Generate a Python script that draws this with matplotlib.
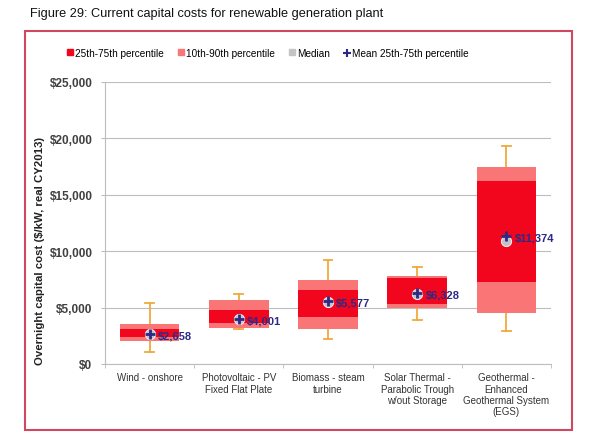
import matplotlib
matplotlib.use("Agg")
import matplotlib.pyplot as plt
from matplotlib.patches import Patch, Rectangle
from matplotlib.lines import Line2D
import numpy as np

plt.rcParams['font.family'] = ['Liberation Sans', 'DejaVu Sans']

categories = ["Wind - onshore", "Photovoltaic - PV\nFixed Flat Plate", "Biomass - steam\nturbine",
              "Solar Thermal -\nParabolic Trough\nw/out Storage", "Geothermal -\nEnhanced\nGeothermal System\n(EGS)"]
p10 = [2040, 3165, 3100, 4965, 4520]
p25 = [2370, 3610, 4200, 5320, 7240]
p75 = [3100, 4810, 6590, 7620, 16250]
p90 = [3550, 5670, 7480, 7830, 17440]
wlow = [1040, 3080, 2220, 3900, 2950]
whigh = [5380, 6200, 9220, 8570, 19300]
median = [2620, 3980, 5540, 6250, 10880]
mean = [2658, 4001, 5577, 6328, 11374]
yticks = [0, 5000, 10000, 15000, 20000, 25000]

c_dark = '#F2061E'
c_light = '#FA7676'
c_med = '#C4C4C4'
c_mean = '#2B2A86'
c_whisk = '#F0A93A'
c_grid = '#BDBDBD'

fig = plt.figure(figsize=(5.90, 4.39), dpi=100)
ax = fig.add_axes([105/590, 1-365/439, 446/590, 282/439])

x = np.arange(len(categories))
bw = 0.67
for i in x:
    ax.plot([i, i], [wlow[i], whigh[i]], color=c_whisk, lw=1.3, zorder=2)
    for v in (wlow[i], whigh[i]):
        ax.plot([i-0.05, i+0.05], [v, v], color=c_whisk, lw=1.3, zorder=2)
ax.bar(x, np.array(p90)-np.array(p10), bottom=p10, width=bw, color=c_light, zorder=3)
ax.bar(x, np.array(p75)-np.array(p25), bottom=p25, width=bw, color=c_dark, zorder=4)
ax.scatter(x, median, s=55, color=c_med, edgecolors='white', linewidths=0.6, zorder=5)
ax.scatter(x, mean, marker='+', s=60, color=c_mean, linewidths=2.0, zorder=6)
for i in x:
    ax.annotate(f"${mean[i]:,}", (i, mean[i]), xytext=(6, -1), textcoords='offset points',
                ha='left', va='center', fontsize=8, fontweight='bold', color=c_mean, zorder=7)

ax.set_ylim(0, 25000)
ax.set_xlim(-0.5, len(categories)-0.5)
ax.set_yticks(yticks)
ax.set_yticklabels([f"${v:,}" for v in yticks], fontsize=8.5, fontweight='bold', color='#404040')
ax.yaxis.grid(True, color=c_grid, lw=0.8)
ax.set_axisbelow(True)
ax.set_xticks(x)
ax.set_xticklabels(categories, fontsize=7, color='#333333', linespacing=1.15)
ax.tick_params(axis='x', length=0, pad=6)
ax.set_xticks(np.arange(-0.5, len(categories), 1), minor=True)
ax.tick_params(axis='x', which='minor', length=3, color=c_grid, direction='out')
ax.tick_params(axis='y', length=3, color=c_grid, pad=6)
for s in ('top', 'right'):
    ax.spines[s].set_visible(False)
for s in ('left', 'bottom'):
    ax.spines[s].set_color(c_grid)
ax.set_ylabel("Overnight capital cost ($/kW, real CY2013)", fontsize=8.2, fontweight='bold', color='#222222')
ax.yaxis.set_label_coords(-0.1345, 0.404)

handles = [Patch(color=c_dark), Patch(color=c_light), Patch(color=c_med),
           Line2D([], [], ls='', marker='+', color=c_mean, markersize=6, mew=1.5)]
labels = ["25th-75th percentile", "10th-90th percentile", "Median", "Mean 25th-75th percentile"]
fig.legend(handles, labels, loc='center', bbox_to_anchor=(268/590, 1-54/439), ncol=4, frameon=False,
           fontsize=7.2, handlelength=0.55, handleheight=0.55, handletextpad=0.25, columnspacing=1.4)

fig.text(30/590, 1-14/439, "Figure 29: Current capital costs for renewable generation plant",
         fontsize=9.2, ha='left', va='center', color='#111111')
fig.patches.append(Rectangle((25/590, 1-431/439), 547/590, 399/439, transform=fig.transFigure,
                             fill=False, edgecolor='#D0485F', lw=1.5))

fig.savefig("out.png", dpi=100)
